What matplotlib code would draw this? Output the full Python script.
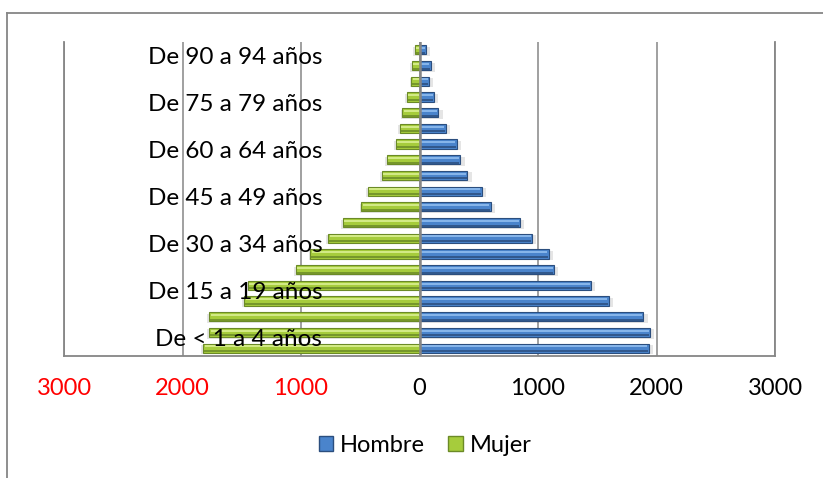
import numpy as np
import matplotlib
matplotlib.use("Agg")
import matplotlib.pyplot as plt
from matplotlib.lines import Line2D
from matplotlib.patches import Patch

plt.rcParams["font.family"] = ["Lato", "DejaVu Sans"]

# age groups, bottom to top
AGE_GROUPS = [
    "De < 1 a 4 años", "De 5 a 9 años", "De 10 a 14 años", "De 15 a 19 años",
    "De 20 a 24 años", "De 25 a 29 años", "De 30 a 34 años", "De 35 a 39 años",
    "De 40 a 44 años", "De 45 a 49 años", "De 50 a 54 años", "De 55 a 59 años",
    "De 60 a 64 años", "De 65 a 69 años", "De 70 a 74 años", "De 75 a 79 años",
    "De 80 a 84 años", "De 85 a 89 años", "De 90 a 94 años", "De 95 a 99 años",
]
HOMBRE = [1935, 1945, 1890, 1595, 1450, 1135, 1090, 950, 850, 600,
          525, 405, 345, 315, 220, 160, 125, 80, 95, 55]
MUJER = [1825, 1775, 1775, 1480, 1450, 1045, 920, 770, 645, 490,
         435, 320, 275, 200, 165, 145, 105, 68, 63, 40]
X_TICKS = [-3000, -2000, -1000, 0, 1000, 2000, 3000]
X_TICK_LABELS = ["3000", "2000", "1000", "0", "1000", "2000", "3000"]
LABEL_EVERY = 3

BLUE, BLUE_LIGHT, BLUE_DARK = "#4A84CC", "#8DBBEE", "#2B4E7E"
GREEN, GREEN_LIGHT, GREEN_DARK = "#A6CC3C", "#D8EE8E", "#6B8A27"
GRID = "#868686"

W, H = 823, 478
fig = plt.figure(figsize=(W / 100, H / 100), dpi=100)

# outer chart border (top and left visible)
fig.add_artist(Line2D([7 / W, 1], [1 - 12.5 / H] * 2, transform=fig.transFigure, color=GRID, lw=1.3))
fig.add_artist(Line2D([7 / W] * 2, [0, 1 - 12.5 / H], transform=fig.transFigure, color=GRID, lw=1.3))

ax = fig.add_axes([64 / W, (H - 356) / H, 711 / W, 314 / H])

y = np.arange(len(AGE_GROUPS))
hombre = np.array(HOMBRE)
mujer = -np.array(MUJER)
bar_h = 0.58

# soft shadow
ax.barh(y - 0.1, hombre + 25, left=10, height=bar_h, color="black", alpha=0.10, zorder=1, lw=0)
ax.barh(y - 0.1, mujer - 25, left=10, height=bar_h, color="black", alpha=0.10, zorder=1, lw=0)

# bars with simple bevel
for vals, base, light, dark in [(hombre, BLUE, BLUE_LIGHT, BLUE_DARK),
                                (mujer, GREEN, GREEN_LIGHT, GREEN_DARK)]:
    sign = np.sign(vals)
    ax.barh(y, vals, height=bar_h, color=base, edgecolor=dark, lw=0.8, zorder=2)
    ax.barh(y - bar_h * 0.33, vals - sign * 8, height=bar_h * 0.22, color=dark, alpha=0.8, lw=0, zorder=2.1)
    ax.barh(y + bar_h * 0.2, vals - sign * 18, left=sign * 6, height=bar_h * 0.22,
            color=light, alpha=0.9, lw=0, zorder=2.2)

ax.axvline(0, color=GRID, lw=1.8, zorder=3)
for xv in X_TICKS:
    ax.axvline(xv, color=GRID, lw=1.1, zorder=0)

ax.set_xlim(-3000, 3000)
ax.set_ylim(-0.5, len(AGE_GROUPS) - 0.5)
ax.set_yticks([])
ax.set_xticks(X_TICKS, X_TICK_LABELS)
ax.tick_params(axis="x", length=0, pad=16, labelsize=17)
for lbl, v in zip(ax.get_xticklabels(), X_TICKS):
    lbl.set_color("red" if v < 0 else "black")

for s in ["left", "right", "bottom"]:
    ax.spines[s].set_color(GRID)
    ax.spines[s].set_linewidth(1.3)
ax.spines["top"].set_visible(False)

for i in range(0, len(AGE_GROUPS), LABEL_EVERY):
    ax.text(-820, i + 0.12, AGE_GROUPS[i], ha="right", va="baseline", fontsize=17.5, zorder=4)

handles = [Patch(facecolor=BLUE, edgecolor=BLUE_DARK, label="Hombre"),
           Patch(facecolor=GREEN, edgecolor=GREEN_DARK, label="Mujer")]
fig.legend(handles=handles, loc="center", bbox_to_anchor=(425 / W, 1 - 445 / H), ncol=2,
           frameon=False, fontsize=17, handlelength=0.6, handleheight=0.6,
           handletextpad=0.3, columnspacing=1.0)

fig.savefig("out.png", dpi=100)
